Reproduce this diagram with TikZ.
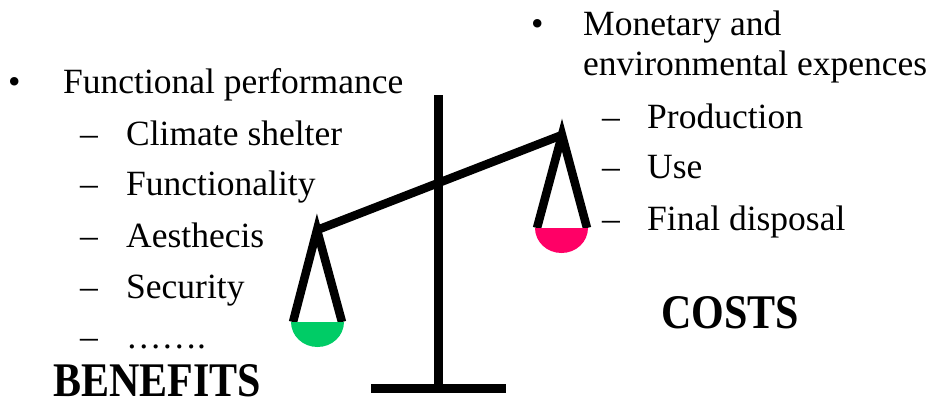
\documentclass[tikz,border=0pt]{standalone}
\usepackage{fontspec}
\setmainfont{Liberation Serif}
\usepackage{graphicx}
\usetikzlibrary{positioning}

\definecolor{panGreen}{HTML}{00CC66}
\definecolor{panPink}{HTML}{FF0066}

\begin{document}
\begin{tikzpicture}[x=1pt, y=-1pt,
  item/.style={anchor=base west, inner sep=0pt, font=\fontsize{35.5}{40}\selectfont},
  heading/.style={anchor=base west, inner sep=0pt, font=\fontsize{42}{48}\selectfont\bfseries},
  bar/.style={line width=8.5pt}]

\useasboundingbox (0,0) rectangle (932,400);

% Benefits list
\node[item] (bBullet) at (8,93) {•};
\node[item] (bMain) at (63,93) {Functional performance};
\node[item] (bDash1) at (80,145) {–};
\node[item] (bClimate) at (126,145) {Climate shelter};
\node[item] (bDash2) at (80,195) {–};
\node[item] (bFunc) at (126,195) {Functionality};
\node[item] (bDash3) at (80,247) {–};
\node[item] (bAesth) at (126,247) {Aesthecis};
\node[item] (bDash4) at (80,298) {–};
\node[item] (bSecur) at (126,298) {Security};
\node[item] (bDash5) at (80,348) {–};
\node[item] (bDots) at (126,348) {…….};
\node[heading] (benefits) at (53,396) {\scalebox{1}[1.15]{BENEFITS}};

% Costs list
\node[item] (cBullet) at (531,35) {•};
\node[item] (cMain) at (583,35) {Monetary and};
\node[item] (cMain2) at (583,75) {environmental expences};
\node[item] (cDash1) at (602,128) {–};
\node[item] (cProd) at (647,128) {Production};
\node[item] (cDash2) at (602,178) {–};
\node[item] (cUse) at (647,178) {Use};
\node[item] (cDash3) at (602,230) {–};
\node[item] (cDisp) at (647,230) {Final disposal};
\node[heading] (costs) at (661,328) {\scalebox{1}[1.15]{COSTS}};

% Scale
\coordinate (top) at (438.5,95);
\coordinate (foot) at (438.5,388);
\coordinate (pivotL) at (317,230);
\coordinate (pivotR) at (562,135);

\draw[bar] (top) -- (foot);
\draw[bar] (371,388.5) -- (506,388.5);
\draw[bar] (pivotL) -- (pivotR);

% Pans
\draw[bar] (293,322) -- (pivotL) -- (342,322);
\fill[panGreen] (291,322) arc[start angle=180, end angle=0, x radius=26.5, y radius=25] -- cycle;

\draw[bar] (537,228) -- (pivotR) -- (587,228);
\fill[panPink] (535,228) arc[start angle=180, end angle=0, x radius=26.5, y radius=25] -- cycle;

\end{tikzpicture}
\end{document}
